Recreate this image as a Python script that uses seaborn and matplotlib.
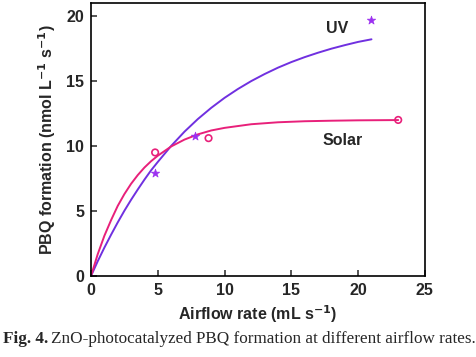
import numpy as np
import pandas as pd
import matplotlib
matplotlib.use("Agg")
import matplotlib.pyplot as plt
import seaborn as sns

# measured points
uv_x = [4.8, 7.8, 21.0]
uv_y = [7.9, 10.8, 19.7]
solar_x = [4.8, 8.8, 23.0]
solar_y = [9.5, 10.6, 12.0]

# fitted curves
uv_fit_x = [0, 0.5, 1, 1.5, 2, 2.5, 3, 3.5, 4, 4.5, 5, 6, 7, 8, 9, 10,
            11, 12, 13, 14, 15, 16, 17, 18, 19, 20, 21]
uv_fit_y = [0, 1.13, 2.18, 3.17, 4.12, 5.02, 5.86, 6.65, 7.41, 8.13, 8.77, 10.0, 11.1, 12.07,
            12.93, 13.70, 14.38, 14.99, 15.53, 16.02, 16.45, 16.83, 17.17, 17.48, 17.75, 18.0, 18.2]
solar_fit_x = [0, 0.5, 1, 1.5, 2, 2.5, 3, 3.5, 4, 4.5, 5, 6, 7, 8, 9, 10,
               12, 14, 16, 18, 20, 23]
solar_fit_y = [0, 1.67, 3.09, 4.29, 5.39, 6.30, 7.09, 7.76, 8.34, 8.83, 9.25, 9.96, 10.49,
               10.89, 11.19, 11.39, 11.67, 11.82, 11.90, 11.94, 11.97, 11.99]

uv_color = "#7030E0"
solar_color = "#E8207A"

sns.set_style("ticks")
plt.rcParams['font.family'] = ['Liberation Sans', 'DejaVu Sans']
plt.rcParams['mathtext.default'] = 'bf'

fig = plt.figure(figsize=(4.77, 3.57), dpi=100)
ax = fig.add_axes([0.1908, 0.2269, 0.700, 0.765])

sns.lineplot(x=uv_fit_x, y=uv_fit_y, ax=ax, color=uv_color, linewidth=1.4)
sns.lineplot(x=solar_fit_x, y=solar_fit_y, ax=ax, color=solar_color, linewidth=1.4)
sns.scatterplot(x=uv_x, y=uv_y, ax=ax, marker="*", s=40, color="#9B30F0",
                edgecolor="#9B30F0", linewidth=0.5, zorder=3)
ax.scatter(solar_x, solar_y, marker="o", s=22, facecolors="none",
           edgecolors=solar_color, linewidths=1.2, zorder=3)

ax.set_xlim(0, 25)
ax.set_ylim(0, 21)
ax.set_xticks([0, 5, 10, 15, 20, 25])
ax.set_yticks([0, 5, 10, 15, 20])
ax.tick_params(direction="in", length=4, width=1.1, labelsize=11.5, pad=5)
for lbl in ax.get_xticklabels() + ax.get_yticklabels():
    lbl.set_fontweight("bold")
for s in ax.spines.values():
    s.set_visible(True)
    s.set_linewidth(1.2)
    s.set_color("black")

ax.text(17.6, 19.0, "UV", fontsize=11.5, fontweight="bold", ha="left", va="center")
ax.text(17.3, 10.4, "Solar", fontsize=11.5, fontweight="bold", ha="left", va="center")

ax.set_xlabel("Airflow rate (mL s$^{-1}$)", fontsize=11.5, fontweight="bold", labelpad=4)
ax.set_ylabel("PBQ formation (nmol L$^{-1}$ s$^{-1}$)", fontsize=11.5, fontweight="bold", labelpad=6)

t1 = fig.text(3 / 477, 1 - 339 / 357, "Fig. 4.", fontsize=12.3, fontweight="bold",
              family="Liberation Serif", va="center", ha="left")
fig.canvas.draw()
bb = t1.get_window_extent()
fig.text((bb.x1 + 3) / 477, 1 - 339 / 357,
         "ZnO-photocatalyzed PBQ formation at different airflow rates.",
         fontsize=12.3, family="Liberation Serif", va="center", ha="left")

fig.savefig("out.png", dpi=100)
